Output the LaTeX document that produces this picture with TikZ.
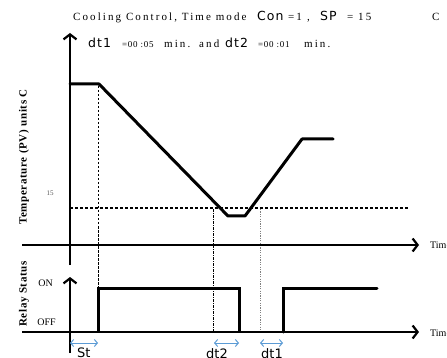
\documentclass[tikz,border=0pt]{standalone}
\usepackage{fontspec}
\setmainfont{Liberation Serif}
\newfontfamily\segfont{DejaVu Sans}
\usetikzlibrary{arrows.meta}
\definecolor{relayblue}{RGB}{91,155,213}
\begin{document}
\begin{tikzpicture}[x=1pt,y=-1pt,
  axisline/.style={line width=2.2pt,line cap=butt},
  axisarrow/.style={axisline,-{Straight Barb[length=5pt,width=13pt,line width=2.2pt]}},
  signal/.style={line width=3pt,line join=round,line cap=round},
  refdash/.style={line width=0.9pt,dash pattern=on 2.5pt off 1.5pt},
  refdashdot/.style={line width=0.9pt,dash pattern=on 3pt off 1pt on 1pt off 1pt},
  refdot/.style={line width=0.9pt,gray,dash pattern=on 1.2pt off 1.2pt},
  level/.style={line width=2pt,dash pattern=on 3pt off 2pt},
  spanarrow/.style={relayblue,line width=1pt,{Straight Barb[length=3pt,width=7pt]}-{Straight Barb[length=3pt,width=7pt]}},
  ttl/.style={inner sep=0pt,anchor=base west,font=\fontsize{11}{13}\selectfont\addfontfeature{LetterSpace=19}},
  ttlsmall/.style={inner sep=0pt,anchor=base west,font=\fontsize{9}{11}\selectfont\addfontfeature{LetterSpace=8}},
  seg/.style={inner sep=0pt,anchor=base west,font=\segfont\fontsize{12.5}{14}\selectfont\addfontfeature{LetterSpace=8}},
  lbl/.style={inner sep=0pt,font=\fontsize{10}{12}\selectfont},
  ylbl/.style={inner sep=0pt,rotate=90,font=\bfseries\fontsize{11}{13}\selectfont\addfontfeature{LetterSpace=6}}
]
\useasboundingbox (0,0) rectangle (447,358);
\fill[white] (0,0) rectangle (447,358);

% title
\node[ttl] (t1) at (73,21) {Cooling Control, Time mode};
\node[seg] (t2) at (257,21) {Con};
\node[ttl] (t3) at (288,21) {=1};
\node[ttl] (t4) at (307,21) {,};
\node[seg] (t5) at (320,21) {SP};
\node[ttl] (t6) at (347,21) {= 15};
\node[ttl] (t7) at (432,21) {C};
% second line
\node[seg] (s1) at (88,48) {dt1};
\node[ttlsmall] (s2) at (122,48) {=00 :05};
\node[ttl] (s3) at (164,48) {min.};
\node[ttl] (s4) at (199,48) {and};
\node[seg] (s5) at (225,48) {dt2};
\node[ttlsmall] (s6) at (258,48) {=00 :01};
\node[ttl] (s7) at (304,48) {min.};

% axis labels
\node[ylbl] (ylab) at (24,157) {Temperature (PV) units C};
\node[ylbl] (rlab) at (24,294) {Relay Status};
\node[inner sep=0pt,gray!70!black,font=\fontsize{7}{8}\selectfont] (fifteen) at (50,193) {15};
\node[lbl,anchor=east] (on) at (53,283) {ON};
\node[lbl,anchor=east] (off) at (56,322) {OFF};
\node[lbl,anchor=west] (time1) at (430,245) {Time};
\node[lbl,anchor=west] (time2) at (430,333) {Time};

% axis coordinates
\coordinate (ua0) at (70,265);
\coordinate (ua1) at (70,33);
\coordinate (ta0) at (22,245);
\coordinate (ta1) at (419,245);
\coordinate (la0) at (70,353);
\coordinate (la1) at (70,277);
\coordinate (oa0) at (22,332);
\coordinate (oa1) at (419,332);

% reference lines
\coordinate (lv0) at (70,208);
\coordinate (lv1) at (408,208);
\draw[level] (lv0) -- (lv1);
\coordinate (d1a) at (98,86);
\coordinate (d1b) at (98,289);
\draw[refdash] (d1a) -- (d1b);
\coordinate (d2a) at (213,209);
\coordinate (d2b) at (213,331);
\draw[refdashdot] (d2a) -- (d2b);
\coordinate (d3a) at (260,209);
\coordinate (d3b) at (260,331);
\draw[refdot] (d3a) -- (d3b);

% axes
\draw[axisarrow] (ua0) -- (ua1);
\draw[axisarrow] (ta0) -- (ta1);
\draw[axisarrow] (la0) -- (la1);
\draw[axisarrow] (oa0) -- (oa1);

% temperature curve
\coordinate (p0) at (70,84);
\coordinate (p1) at (99,84);
\coordinate (p2) at (228,216);
\coordinate (p3) at (245,216);
\coordinate (p4) at (302,139);
\coordinate (p5) at (333,139);
\draw[signal] (p0) -- (p1) -- (p2) -- (p3) -- (p4) -- (p5);

% relay signal
\coordinate (r0) at (98,332);
\coordinate (r1) at (98,288);
\coordinate (r2) at (239,288);
\coordinate (r3) at (239,332);
\coordinate (r4) at (283,332);
\coordinate (r5) at (283,288);
\coordinate (r6) at (377,288);
\draw[signal,line join=miter,line cap=butt] (r0) -- (r1) -- (r2) -- (r3);
\draw[signal,line join=miter] (r4) -- (r5) -- (r6);

% spans
\coordinate (a1) at (70,343);
\coordinate (a2) at (98,343);
\coordinate (a3) at (214,343);
\coordinate (a4) at (239,343);
\coordinate (a5) at (260,343);
\coordinate (a6) at (283,343);
\draw[spanarrow] (a1) -- (a2);
\draw[spanarrow] (a3) -- (a4);
\draw[spanarrow] (a5) -- (a6);
\node[seg,anchor=north west,font=\segfont\fontsize{13}{15}\selectfont] (st) at (77,348) {St};
\node[seg,anchor=north west,font=\segfont\fontsize{13}{15}\selectfont] (dtb2) at (206,348) {dt2};
\node[seg,anchor=north west,font=\segfont\fontsize{13}{15}\selectfont] (dtb1) at (261,348) {dt1};
\end{tikzpicture}
\end{document}
